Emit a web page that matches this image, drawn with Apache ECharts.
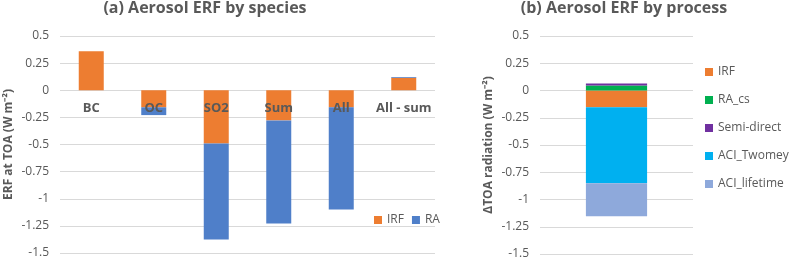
<!DOCTYPE html>
<html><head><meta charset="utf-8">
<script src="https://cdn.jsdelivr.net/npm/echarts@6/dist/echarts.min.js"></script>
<style>html,body{margin:0;padding:0;background:#fff}#c{width:791px;height:258px}</style>
</head><body><div id="c"></div>
<script>
const speciesCats = ['BC', 'OC', 'SO2', 'Sum', 'All', 'All - sum'];
const speciesIRF = [0.36, -0.157, -0.49, -0.278, -0.157, 0.115];
const speciesRA = [0, -0.072, -0.885, -0.951, -0.942, 0.007];
const processCats = [''];
const procIRF = [-0.153];
const procRAcs = [0.046];
const procSemi = [0.018];
const procTwomey = [-0.697];
const procLifetime = [-0.303];
const yTicks = {min: -1.5, max: 0.5, interval: 0.25};

const txt = '#595959';
const font = 'Open Sans';
const chart = echarts.init(document.getElementById('c'), null, {renderer: 'canvas'});
function yAx(gi, name) {
  return {
    type: 'value', gridIndex: gi, min: yTicks.min, max: yTicks.max, interval: yTicks.interval,
    name: name, nameLocation: 'middle', nameGap: 45, nameMoveOverlap: false,
    nameTextStyle: {color: txt, fontSize: 12, fontWeight: 'bold', fontFamily: font},
    axisLine: {show: false}, axisTick: {show: false},
    axisLabel: {color: txt, fontSize: 12, fontFamily: font, margin: 11},
    splitLine: {lineStyle: {color: '#D9D9D9', width: 1}}
  };
}
chart.setOption({
  animation: false,
  title: [
    {text: '(a) Aerosol ERF by species', left: 205, top: 0, padding: [0, 0], textAlign: 'center',
     textStyle: {color: txt, fontSize: 16, fontWeight: 'bold', fontFamily: font}},
    {text: '(b) Aerosol ERF by process', left: 624, top: 0, padding: [0, 0], textAlign: 'center',
     textStyle: {color: txt, fontSize: 16, fontWeight: 'bold', fontFamily: font}}
  ],
  legend: [
    {data: ['IRF', 'RA'], left: 369, top: 209, itemWidth: 8, itemHeight: 8, itemGap: 8,
     icon: 'rect', textStyle: {color: txt, fontSize: 12, fontFamily: font}},
    {data: ['IRF', 'RA_cs', 'Semi-direct', 'ACI_Twomey', 'ACI_lifetime'], orient: 'vertical',
     left: 700, top: 61, itemWidth: 8, itemHeight: 8, itemGap: 16,
     icon: 'rect', textStyle: {color: txt, fontSize: 12, fontFamily: font}}
  ],
  grid: [
    {left: 60, top: 36, width: 375, height: 217, containLabel: false, outerBoundsMode: 'none'},
    {left: 540, top: 36, width: 153, height: 218, containLabel: false, outerBoundsMode: 'none'}
  ],
  xAxis: [
    {type: 'category', gridIndex: 0, data: speciesCats, position: 'bottom', offset: -163, z: 10,
     axisLine: {show: false, onZero: false}, axisTick: {show: false},
     axisLabel: {interval: 0, color: txt, fontSize: 13, fontWeight: 'bold', fontFamily: font, margin: 12}},
    {type: 'category', gridIndex: 1, data: processCats,
     axisLine: {show: false, onZero: true}, axisTick: {show: false},
     axisLabel: {show: false}}
  ],
  yAxis: [yAx(0, 'ERF at TOA (W m⁻²)'), yAx(1, 'ΔTOA radiation (W m⁻²)')],
  series: [
    {name: 'IRF', type: 'bar', stack: 'a', xAxisIndex: 0, yAxisIndex: 0, data: speciesIRF, barWidth: '40%', itemStyle: {color: '#ED7D31'}},
    {name: 'RA', type: 'bar', stack: 'a', xAxisIndex: 0, yAxisIndex: 0, data: speciesRA, barWidth: '40%', itemStyle: {color: '#4F7FC9'}},
    {name: 'IRF', type: 'bar', stack: 'b', xAxisIndex: 1, yAxisIndex: 1, data: procIRF, barWidth: '40%', itemStyle: {color: '#ED7D31'}},
    {name: 'RA_cs', type: 'bar', stack: 'b', xAxisIndex: 1, yAxisIndex: 1, data: procRAcs, barWidth: '40%', itemStyle: {color: '#00B050'}},
    {name: 'Semi-direct', type: 'bar', stack: 'b', xAxisIndex: 1, yAxisIndex: 1, data: procSemi, barWidth: '40%', itemStyle: {color: '#7030A0'}},
    {name: 'ACI_Twomey', type: 'bar', stack: 'b', xAxisIndex: 1, yAxisIndex: 1, data: procTwomey, barWidth: '40%', itemStyle: {color: '#00B0F0'}},
    {name: 'ACI_lifetime', type: 'bar', stack: 'b', xAxisIndex: 1, yAxisIndex: 1, data: procLifetime, barWidth: '40%', itemStyle: {color: '#8EA9DB'}}
  ]
});
</script></body></html>
